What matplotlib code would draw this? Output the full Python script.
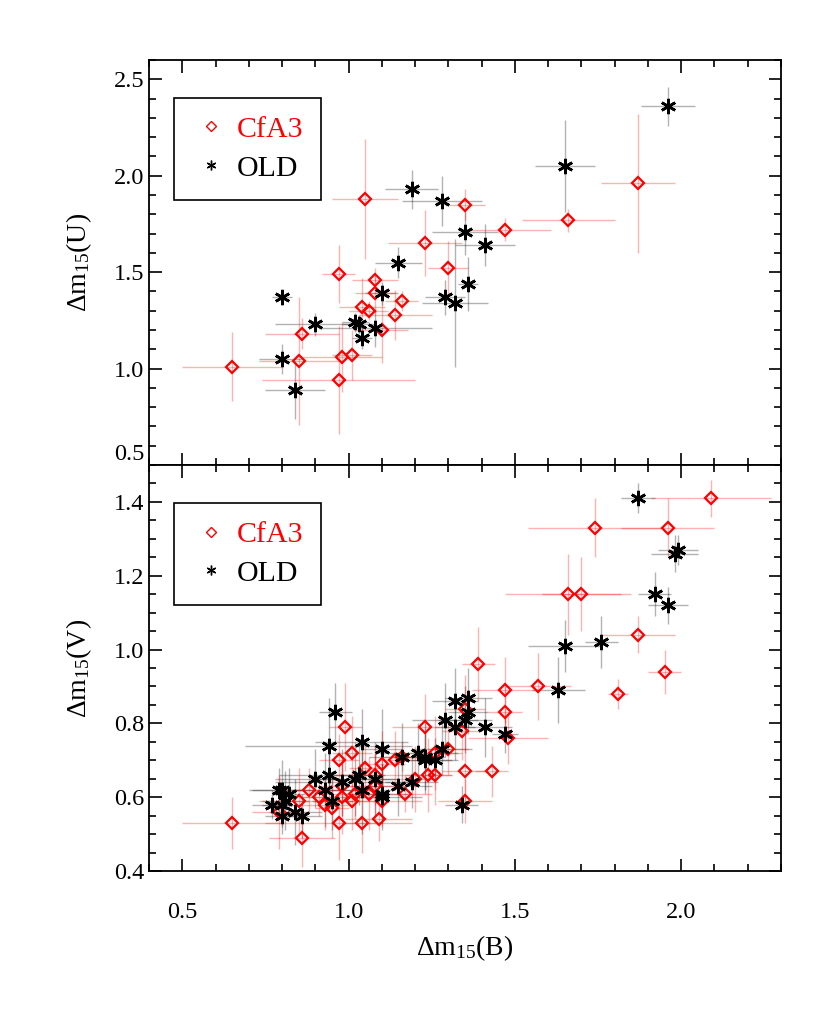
import matplotlib
matplotlib.use("Agg")
import matplotlib.pyplot as plt
from matplotlib.lines import Line2D
from matplotlib.ticker import MultipleLocator

plt.rcParams['font.family'] = ['Liberation Serif', 'DejaVu Serif']
plt.rcParams['mathtext.fontset'] = 'custom'
plt.rcParams['mathtext.rm'] = 'Liberation Serif'
plt.rcParams['mathtext.it'] = 'Liberation Serif:italic'

# dm15(B) vs dm15(U) -- CfA3
ub_cfa = [0.65, 0.85, 0.86, 0.97, 0.98, 0.97, 1.01, 1.04, 1.06, 1.08, 1.08, 1.10, 1.14, 1.16, 1.05, 1.23, 1.30, 1.35, 1.47, 1.66, 1.87]
u_cfa = [1.01, 1.04, 1.18, 1.49, 1.06, 0.94, 1.07, 1.32, 1.30, 1.46, 1.39, 1.20, 1.28, 1.35, 1.88, 1.65, 1.52, 1.85, 1.72, 1.77, 1.96]
ub_cfa_err = [0.15, 0.12, 0.11, 0.05, 0.12, 0.23, 0.06, 0.07, 0.06, 0.07, 0.06, 0.08, 0.11, 0.05, 0.10, 0.11, 0.06, 0.06, 0.14, 0.14, 0.11]
u_cfa_err = [0.18, 0.33, 0.08, 0.15, 0.18, 0.28, 0.13, 0.15, 0.05, 0.06, 0.10, 0.17, 0.13, 0.05, 0.31, 0.17, 0.14, 0.08, 0.06, 0.06, 0.36]

# dm15(B) vs dm15(U) -- OLD
ub_old = [0.80, 0.80, 0.84, 0.90, 1.02, 1.03, 1.04, 1.08, 1.10, 1.15, 1.19, 1.28, 1.29, 1.32, 1.35, 1.36, 1.41, 1.65, 1.96]
u_old = [1.37, 1.05, 0.89, 1.23, 1.24, 1.23, 1.16, 1.21, 1.39, 1.55, 1.93, 1.87, 1.37, 1.34, 1.71, 1.44, 1.64, 2.05, 2.36]
ub_old_err = [0.03, 0.07, 0.09, 0.12, 0.04, 0.05, 0.03, 0.17, 0.05, 0.07, 0.08, 0.12, 0.06, 0.10, 0.10, 0.03, 0.09, 0.09, 0.08]
u_old_err = [0.04, 0.08, 0.15, 0.06, 0.05, 0.05, 0.06, 0.10, 0.06, 0.08, 0.10, 0.13, 0.09, 0.33, 0.12, 0.14, 0.11, 0.24, 0.10]

# dm15(B) vs dm15(V) -- CfA3
vb_cfa = [0.65, 0.86, 0.79, 0.85, 0.88, 0.91, 0.93, 0.95, 0.97, 0.97, 0.99, 0.98, 0.98, 1.01, 1.05, 1.08, 1.08,
          1.06, 1.02, 1.10, 1.01, 1.09, 1.04, 1.10, 1.14, 1.16, 1.17, 1.20, 1.23, 1.24, 1.26, 1.26, 1.30, 1.34,
          1.35, 1.35, 1.35, 1.43, 1.39, 1.47, 1.47, 1.48, 1.57, 1.66, 1.70, 1.74, 1.96, 2.09, 1.87, 1.95, 1.81]
v_cfa = [0.53, 0.49, 0.56, 0.59, 0.62, 0.60, 0.58, 0.57, 0.53, 0.70, 0.79, 0.63, 0.60, 0.72, 0.68, 0.66, 0.63,
         0.61, 0.61, 0.59, 0.59, 0.54, 0.53, 0.69, 0.70, 0.71, 0.61, 0.65, 0.79, 0.66, 0.66, 0.72, 0.73, 0.78,
         0.84, 0.67, 0.59, 0.67, 0.96, 0.89, 0.83, 0.76, 0.90, 1.15, 1.15, 1.33, 1.33, 1.41, 1.04, 0.94, 0.88]
vb_cfa_err = [0.15, 0.10, 0.08, 0.12, 0.10, 0.06, 0.08, 0.05, 0.22, 0.06, 0.05, 0.10, 0.12, 0.06, 0.05, 0.12, 0.08,
              0.06, 0.09, 0.12, 0.07, 0.10, 0.06, 0.07, 0.05, 0.06, 0.08, 0.06, 0.10, 0.07, 0.05, 0.08, 0.06, 0.06,
              0.06, 0.07, 0.08, 0.05, 0.05, 0.10, 0.05, 0.12, 0.10, 0.19, 0.12, 0.20, 0.14, 0.18, 0.11, 0.05, 0.03]
v_cfa_err = [0.07, 0.08, 0.10, 0.09, 0.06, 0.05, 0.07, 0.08, 0.10, 0.07, 0.12, 0.08, 0.10, 0.10, 0.06, 0.08, 0.09,
             0.10, 0.07, 0.07, 0.08, 0.06, 0.08, 0.09, 0.08, 0.04, 0.05, 0.09, 0.09, 0.10, 0.08, 0.10, 0.07, 0.08,
             0.09, 0.08, 0.06, 0.07, 0.10, 0.09, 0.07, 0.07, 0.09, 0.11, 0.10, 0.08, 0.08, 0.05, 0.05, 0.06, 0.04]

# dm15(B) vs dm15(V) -- OLD
vb_old = [0.77, 0.79, 0.80, 0.82, 0.81, 0.80, 0.80, 0.84, 0.86, 0.90, 0.93, 0.94, 0.94, 0.95, 0.96, 0.98, 1.02,
          1.03, 1.04, 1.04, 1.08, 1.10, 1.10, 1.10, 1.15, 1.16, 1.19, 1.21, 1.23, 1.23, 1.26, 1.28, 1.29, 1.32,
          1.32, 1.35, 1.36, 1.36, 1.41, 1.47, 1.34, 1.63, 1.65, 1.76, 1.87, 1.92, 1.96, 1.98, 1.99]
v_old = [0.58, 0.62, 0.62, 0.61, 0.59, 0.58, 0.55, 0.56, 0.55, 0.65, 0.62, 0.66, 0.74, 0.59, 0.83, 0.64, 0.65,
         0.66, 0.62, 0.75, 0.65, 0.61, 0.60, 0.73, 0.63, 0.71, 0.64, 0.72, 0.71, 0.70, 0.70, 0.73, 0.81, 0.86,
         0.79, 0.81, 0.87, 0.83, 0.79, 0.77, 0.58, 0.89, 1.01, 1.02, 1.41, 1.15, 1.12, 1.26, 1.27]
vb_old_err = [0.06, 0.08, 0.10, 0.05, 0.07, 0.06, 0.05, 0.08, 0.06, 0.12, 0.10, 0.15, 0.25, 0.06, 0.05, 0.20, 0.12,
              0.08, 0.10, 0.14, 0.07, 0.08, 0.12, 0.06, 0.10, 0.10, 0.08, 0.12, 0.06, 0.08, 0.07, 0.09, 0.10, 0.07,
              0.06, 0.08, 0.07, 0.06, 0.08, 0.04, 0.05, 0.08, 0.11, 0.05, 0.05, 0.05, 0.06, 0.07, 0.06]
v_old_err = [0.04, 0.06, 0.08, 0.07, 0.08, 0.06, 0.05, 0.09, 0.06, 0.08, 0.10, 0.10, 0.13, 0.08, 0.08, 0.09, 0.10,
             0.08, 0.12, 0.09, 0.10, 0.08, 0.09, 0.11, 0.08, 0.09, 0.07, 0.08, 0.10, 0.08, 0.06, 0.07, 0.10, 0.09,
             0.09, 0.09, 0.08, 0.06, 0.08, 0.05, 0.05, 0.09, 0.07, 0.07, 0.04, 0.06, 0.05, 0.05, 0.04]

fig = plt.figure(figsize=(8.3, 10.14), dpi=100)
ax1 = fig.add_axes([0.1795, 0.5414, 0.7615, 0.3994])
ax2 = fig.add_axes([0.1795, 0.1410, 0.7615, 0.4004], sharex=ax1)

red_err = (1, 0, 0, 0.3)
blk_err = (0, 0, 0, 0.3)


def draw(ax, xc, yc, xce, yce, xo, yo, xoe, yoe):
    ax.errorbar(xo, yo, xerr=xoe, yerr=yoe, fmt='none', ecolor=blk_err, elinewidth=1, capsize=0, zorder=1)
    ax.errorbar(xc, yc, xerr=xce, yerr=yce, fmt='none', ecolor=red_err, elinewidth=1, capsize=0, zorder=1)
    ax.plot(xc, yc, 'D', ms=6.2, mfc='none', mec='red', mew=1.6, zorder=3)
    ax.plot(xo, yo, marker=(6, 2, 0), ls='none', ms=11, mec='black', mew=1.9, zorder=4)
    handles = [Line2D([], [], marker='D', ls='none', ms=5, mfc='none', mec='red', mew=1),
               Line2D([], [], marker=(6, 2, 0), ls='none', ms=7, mec='black', mew=1)]
    leg = ax.legend(handles, ['CfA3', 'OLD'], loc='upper left', bbox_to_anchor=(0.04, 0.906),
                    borderaxespad=0, fontsize=21.5, fancybox=False, framealpha=1, edgecolor='black',
                    handletextpad=0.25, borderpad=0.6, labelspacing=0.4, handlelength=1.25)
    leg.get_frame().set_linewidth(1.2)
    leg.get_texts()[0].set_color('red')


draw(ax1, ub_cfa, u_cfa, ub_cfa_err, u_cfa_err, ub_old, u_old, ub_old_err, u_old_err)
draw(ax2, vb_cfa, v_cfa, vb_cfa_err, v_cfa_err, vb_old, v_old, vb_old_err, v_old_err)

ax1.set_xlim(0.4, 2.3)
ax1.set_ylim(0.5, 2.6)
ax2.set_ylim(0.4, 1.5)
ax1.xaxis.set_major_locator(MultipleLocator(0.5))
ax1.xaxis.set_minor_locator(MultipleLocator(0.1))
ax1.yaxis.set_major_locator(MultipleLocator(0.5))
ax1.yaxis.set_minor_locator(MultipleLocator(0.1))
ax2.yaxis.set_major_locator(MultipleLocator(0.2))
ax2.yaxis.set_minor_locator(MultipleLocator(0.05))

for ax in (ax1, ax2):
    ax.tick_params(which='both', direction='in', top=True, right=True, labelsize=17.5, width=1.2)
    ax.tick_params(which='major', length=9)
    ax.tick_params(which='minor', length=5)
    for s in ax.spines.values():
        s.set_linewidth(1.3)
ax1.tick_params(labelbottom=False)
ax2.tick_params(axis='x', pad=22)

ax1.set_ylabel('Δm$_{15}$(U)', fontsize=20, labelpad=14)
ax2.set_ylabel('Δm$_{15}$(V)', fontsize=20, labelpad=14)
ax2.set_xlabel('Δm$_{15}$(B)', fontsize=20, labelpad=8)

# lift the lowest label of the upper panel off the panel boundary
fig.canvas.draw()
for lbl in ax1.get_yticklabels():
    if lbl.get_text() == '0.5':
        lbl.set_va('bottom')

fig.savefig('out.png', dpi=100)
